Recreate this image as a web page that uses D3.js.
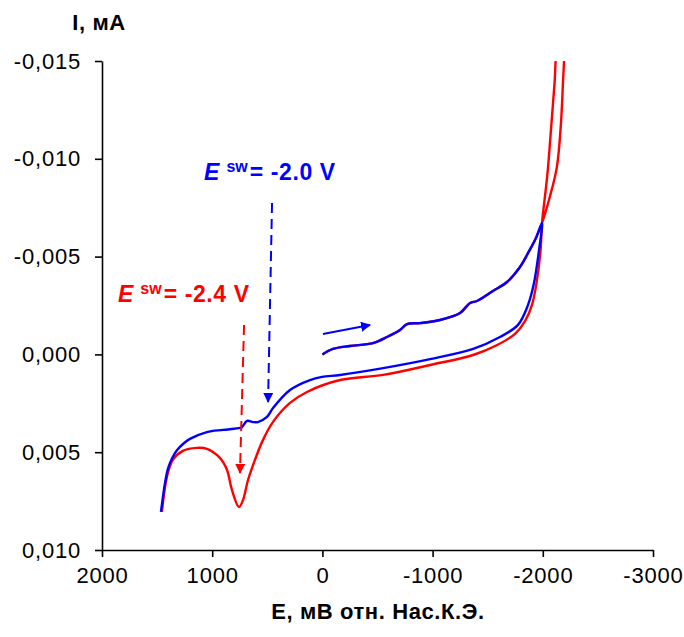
<!DOCTYPE html>
<html lang="ru">
<head>
<meta charset="utf-8">
<title>I-E</title>
<script src="https://d3js.org/d3.v7.min.js"></script>
<style>
  body { margin: 0; background: #fff; }
  text { font-family: Arial, "Liberation Sans", sans-serif; }
  .tick text { font-size: 22px; fill: #000; letter-spacing: 0.8px; }
  .axis path, .axis line { stroke: #000; stroke-width: 1.6px; }
  .title { font-size: 22px; font-weight: bold; letter-spacing: 0.6px; }
</style>
</head>
<body>
<svg id="chart" width="684" height="637"></svg>
<script>
// forward sweep 0 -> -2000 mV (common to both runs)
var fwdE = [0, -96, -250, -459, -586, -704, -768, -886, -1067, -1249, -1340, -1403, -1548, -1675, -1793, -1866, -1938, -1993];
var fwdI = [0.0000, -0.00028, -0.00043, -0.00058, -0.00089, -0.00125, -0.00155, -0.00160, -0.00176, -0.00212, -0.00263, -0.00273, -0.00324, -0.00370, -0.00447, -0.00518, -0.00595, -0.00672];

// red run goes on past -2000 and turns back above the frame
var redTurnE = [-2064, -2128, -2165, -2183, -2197, -2200, -2128, -2107, -2079, -2043, -2016, -1993];
var redTurnI = [-0.00806, -0.00959, -0.01184, -0.01389, -0.01558, -0.0170, -0.0156, -0.01389, -0.01184, -0.00928, -0.0079, -0.00672];

// reverse sweep, red (E sw = -2.4 V)
var redRevE = [-1980, -1943, -1902, -1839, -1748, -1586, -1368, -978, -551, -161, 140, 294, 448, 539, 612, 675, 720, 757, 821, 866, 930, 1048, 1139, 1266, 1357, 1411, 1456];
var redRevI = [-0.00534, -0.00365, -0.00253, -0.00170, -0.00105, -0.00048, 0.00003, 0.00054, 0.00105, 0.00131, 0.00192, 0.00248, 0.00345, 0.00437, 0.00539, 0.00642, 0.00744, 0.00780, 0.00693, 0.00590, 0.00529, 0.00483, 0.00478, 0.00493, 0.00539, 0.00626, 0.00805];

// reverse sweep, blue (E sw = -2.0 V)
var blueRevE = [-1966, -1920, -1866, -1775, -1611, -1368, -978, -551, -161, 4, 113, 294, 448, 503, 585, 630, 684, 729, 747, 902, 1048, 1202, 1265, 1320, 1365, 1402, 1429, 1465];
var blueRevI = [-0.00534, -0.00365, -0.00253, -0.00151, -0.00089, -0.00028, 0.00024, 0.00070, 0.00105, 0.00115, 0.00131, 0.00182, 0.00274, 0.00320, 0.00346, 0.00346, 0.00340, 0.00371, 0.00376, 0.00386, 0.00397, 0.00432, 0.00458, 0.00490, 0.00532, 0.00585, 0.00660, 0.00805];

var xTicks = [2000, 1000, 0, -1000, -2000, -3000];
var yTicks = [-0.015, -0.010, -0.005, 0.000, 0.005, 0.010];

// annotation arrows [E0, I0, E1, I1]
var blueSwArrow = [457, -0.00774, 493, 0.00243];
var redSwArrow = [711, -0.0015, 748, 0.00606];
var scanArrow = [-5, -0.00104, -432, -0.0015];

var svg = d3.select("#chart");
var mLeft = 102, mRight = 653, mTop = 61, mBottom = 550;

var x = d3.scaleLinear().domain([2000, -3000]).range([mLeft, mRight]);
var y = d3.scaleLinear().domain([-0.015, 0.010]).range([mTop, mBottom]);

function pts(E, I) {
  return E.map(function(e, i) { return [e, I[i]]; });
}
var blueData = pts(fwdE, fwdI).concat(pts(blueRevE, blueRevI));
var redData = pts(fwdE, fwdI).concat(pts(redTurnE, redTurnI)).concat(pts(redRevE, redRevI));

var defs = svg.append("defs");
defs.append("clipPath").attr("id", "plot")
  .append("rect").attr("x", mLeft).attr("y", mTop).attr("width", mRight - mLeft).attr("height", mBottom - mTop);

function marker(id, color) {
  defs.append("marker").attr("id", id)
    .attr("viewBox", "0 0 10 10").attr("refX", 9).attr("refY", 5)
    .attr("markerWidth", 5).attr("markerHeight", 5).attr("orient", "auto")
    .append("path").attr("d", "M0,0 L10,5 L0,10 Z").attr("fill", color);
}
marker("headBlue", "#0000ff");
marker("headRed", "#ff0000");

// axes
svg.append("g").attr("class", "axis")
  .attr("transform", "translate(0," + mBottom + ")")
  .call(d3.axisBottom(x).tickValues(xTicks).tickSize(7).tickSizeOuter(0)
    .tickFormat(function(d) { return String(d); }))
  .call(function(g) { g.selectAll("text").attr("dy", "1.05em"); });

svg.append("g").attr("class", "axis")
  .attr("transform", "translate(" + mLeft + ",0)")
  .call(d3.axisLeft(y).tickValues(yTicks).tickSize(7).tickSizeOuter(0)
    .tickFormat(function(d) { return (d < 0 ? "-" : "") + Math.abs(d).toFixed(3).replace(".", ","); }))
  .call(function(g) { g.selectAll("text").attr("x", -21); });

var line = d3.line()
  .x(function(d) { return x(d[0]); })
  .y(function(d) { return y(d[1]); })
  .curve(d3.curveCatmullRom.alpha(0.5));

var plot = svg.append("g").attr("clip-path", "url(#plot)");
plot.append("path").datum(redData).attr("d", line)
  .attr("fill", "none").attr("stroke", "#ff0000").attr("stroke-width", 2.4);
plot.append("path").datum(blueData).attr("d", line)
  .attr("fill", "none").attr("stroke", "#0000ff").attr("stroke-width", 2.4);

// arrows
function arrow(a, color, head, dashed) {
  svg.append("line")
    .attr("x1", x(a[0])).attr("y1", y(a[1]))
    .attr("x2", x(a[2])).attr("y2", y(a[3]))
    .attr("stroke", color).attr("stroke-width", 2)
    .attr("stroke-dasharray", dashed ? "10,6" : null)
    .attr("marker-end", "url(#" + head + ")");
}
arrow(blueSwArrow, "#0000ff", "headBlue", true);
arrow(redSwArrow, "#ff0000", "headRed", true);
arrow(scanArrow, "#0000ff", "headBlue", false);

// labels
function swLabel(E, I, color, val) {
  var t = svg.append("text").attr("x", x(E)).attr("y", y(I))
    .attr("fill", color).attr("font-weight", "bold").attr("font-size", 23);
  t.append("tspan").attr("font-style", "italic").text("E");
  t.append("tspan").attr("font-size", 16).attr("dx", 7).attr("dy", -8).text("sw");
  t.append("tspan").attr("dx", 2).attr("dy", 8).attr("letter-spacing", 0.6).text("= " + val);
}
swLabel(1074, -0.00891, "#0000ff", "-2.0 V");
swLabel(1855, -0.00268, "#ff0000", "-2.4 V");

svg.append("text").attr("class", "title").attr("x", 99).attr("y", 30).attr("text-anchor", "middle")
  .text("I, мА");
svg.append("text").attr("class", "title").attr("x", 378).attr("y", 619).attr("text-anchor", "middle")
  .text("E, мВ отн. Нас.К.Э.");
</script>
</body>
</html>
